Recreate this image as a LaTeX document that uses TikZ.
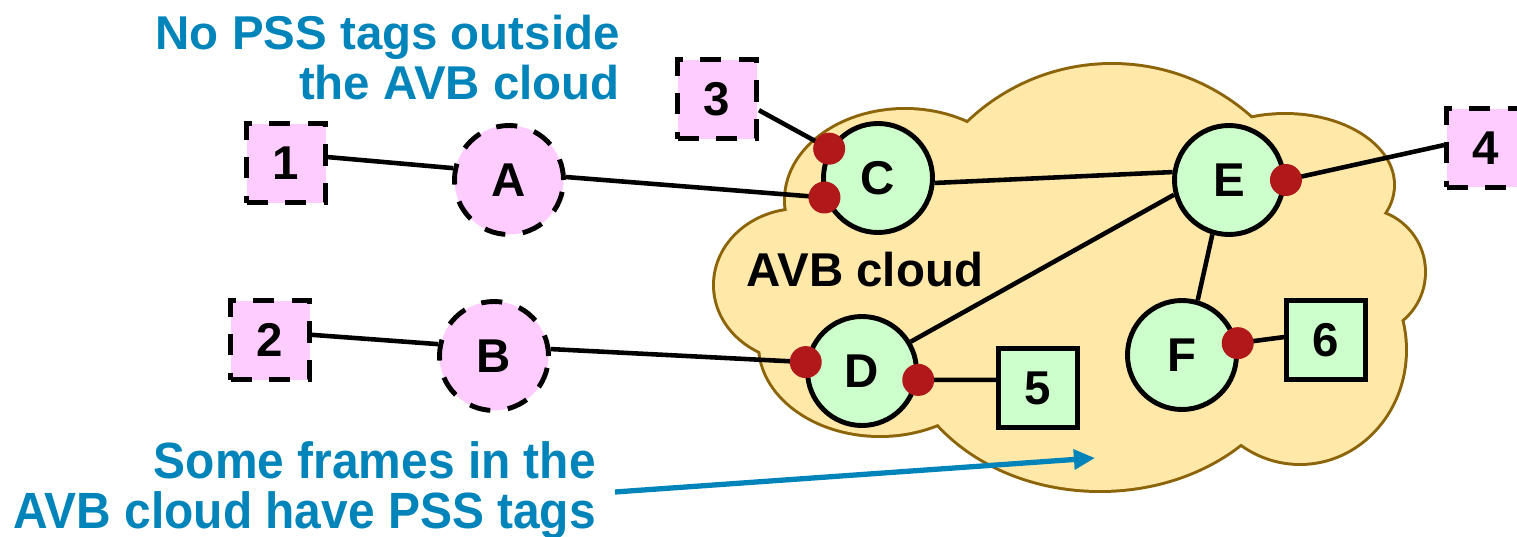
\documentclass[tikz,border=0pt]{standalone}
\usepackage{fontspec}
\setmainfont{Liberation Sans}
\usepackage{xcolor}
\usepackage{tikz}
\usetikzlibrary{arrows.meta}

\definecolor{pinkfill}{RGB}{255,204,255}
\definecolor{greenfill}{RGB}{204,255,204}
\definecolor{dotred}{RGB}{176,24,26}
\definecolor{cloudfill}{RGB}{255,232,168}
\definecolor{cloudline}{RGB}{140,100,10}
\definecolor{noteblue}{RGB}{0,132,186}

% centre x / centre y / x radius / y radius of the cloud puffs
\newcommand{\cloudpuffs}{9.05/-2.00/1.19/0.90, 11.12/-2.73/2.08/2.08, 12.85/-1.85/1.08/0.70,
  13.62/-2.72/0.62/0.62, 13.00/-3.50/1.05/1.13, 11.00/-3.30/2.00/1.60,
  8.80/-3.45/1.20/0.90, 8.00/-2.85/0.85/0.75}

\tikzset{
  big/.style={font=\fontsize{13.5}{14.3}\selectfont\bfseries},
  station/.style={big, rectangle, minimum size=0.79cm, inner sep=0pt, line width=1.4pt},
  bridge/.style={big, circle, minimum size=1.09cm, inner sep=0pt, line width=1.4pt},
  legacybox/.style={station, fill=pinkfill, draw, dash pattern=on 6pt off 5pt},
  avbbox/.style={station, fill=greenfill, draw},
  legacybridge/.style={bridge, fill=pinkfill, draw, dash pattern=on 6pt off 5pt},
  avbbridge/.style={bridge, fill=greenfill, draw},
  note/.style={big, text=noteblue, align=right, anchor=north east, inner sep=0pt}
}

\begin{document}
\begin{tikzpicture}[line width=1.3pt]
  \clip (0,0) rectangle (15.17,-5.37);

  % cloud: outlines first, then the fill covers the inner halves
  \foreach \cx/\cy/\rx/\ry in \cloudpuffs
    \draw[cloudline, line width=1.7pt] (\cx,\cy) ellipse[x radius=\rx, y radius=\ry];
  \foreach \cx/\cy/\rx/\ry in \cloudpuffs
    \fill[cloudfill] (\cx,\cy) ellipse[x radius=\rx, y radius=\ry];
  \fill[cloudfill] (10.9,-2.9) ellipse[x radius=2.6, y radius=1.4];
  \node[big] (cloudname) at (8.65,-2.70) {AVB cloud};

  \node[legacybox] (n1) at (2.86,-1.63) {1};
  \node[legacybox] (n2) at (2.70,-3.40) {2};
  \node[legacybox] (n3) at (7.17,-0.99) {3};
  \node[legacybox] (n4) at (14.86,-1.48) {4};
  \node[avbbox] (n5) at (10.38,-3.88) {5};
  \node[avbbox] (n6) at (13.26,-3.40) {6};

  \node[legacybridge] (A) at (5.09,-1.80) {A};
  \node[legacybridge] (B) at (4.94,-3.56) {B};
  \node[avbbridge] (C) at (8.78,-1.78) {C};
  \node[avbbridge] (D) at (8.62,-3.71) {D};
  \node[avbbridge] (E) at (12.29,-1.80) {E};
  \node[avbbridge] (F) at (11.82,-3.55) {F};

  \coordinate (c1) at (C.149);
  \coordinate (c2) at (C.200);
  \coordinate (e1) at (E.0);
  \coordinate (d1) at (D.171);
  \coordinate (d2) at (D.351);
  \coordinate (f1) at (F.12);

  \draw (n1.8) -- (A.168);
  \draw (A.3) -- (c2);
  \draw (n3.-15) -- (c1);
  \draw (C.-5) -- (E.172);
  \draw (e1) -- (n4.176);
  \draw (n2.7) -- (B.168);
  \draw (B.7) -- (d1);
  \draw (D.31) -- (E.195);
  \draw (d2) -- (n5.169);
  \draw (E.253) -- (F.74);
  \draw (f1) -- (n6.176);

  \foreach \p in {c1,c2,e1,d1,d2,f1} \fill[dotred] (\p) circle (0.16);

  \node[note] (outside) at (6.22,-0.13) {No PSS tags outside\\the AVB cloud};
  \node[note, xscale=0.94, font=\fontsize{14.5}{14.2}\selectfont\bfseries] (inside) at (5.98,-4.39)
    {Some frames in the\\AVB cloud have PSS tags};
  \coordinate (tail) at (6.15,-4.92);
  \coordinate (tip) at (10.95,-4.58);
  \draw[noteblue, line width=1.5pt, -{Triangle[length=6pt, width=5.5pt]}] (tail) -- (tip);
\end{tikzpicture}
\end{document}
